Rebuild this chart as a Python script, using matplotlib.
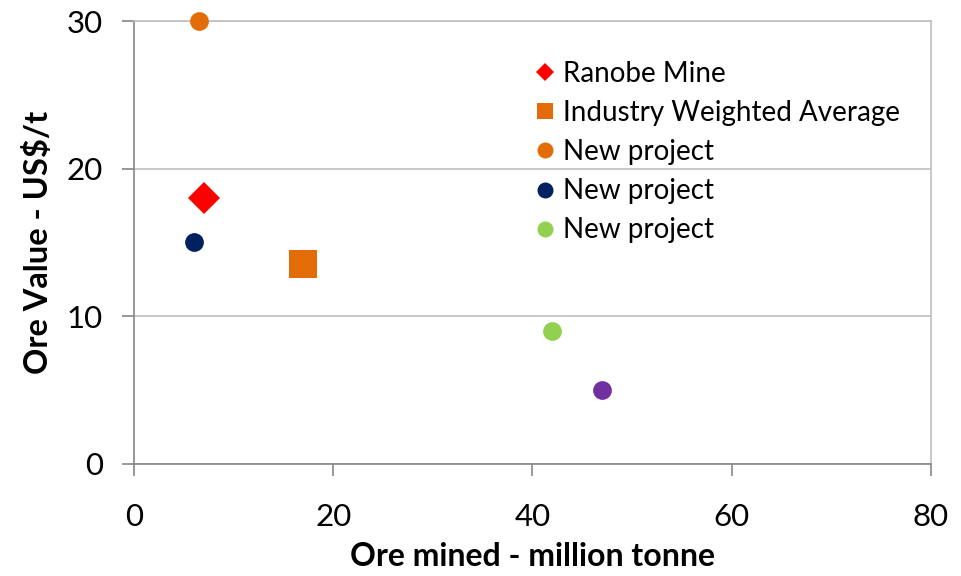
# Ore value vs ore mined scatter, Excel-style layout

import matplotlib.pyplot as plt

plt.rcParams['font.family'] = ['Lato', 'DejaVu Sans']

# Data points (ore mined in Mt, ore value in US$/t)
labels = ['Ranobe Mine', 'Industry Weighted Average', 'New project', 'New project', 'New project', '_nolegend_']
ore_mined = [7, 17, 6.5, 6, 42, 47]
ore_value = [18, 13.5, 30, 15, 9, 5]
markers = ['D', 's', 'o', 'o', 'o', 'o']
colors = ['#FF0000', '#E36C09', '#E36C09', '#002060', '#92D050', '#7030A0']
sizes = [16, 19.5, 13.5, 13.5, 13.5, 13.5]
legend_sizes = [9, 11.5, 11.5, 11.5, 11.5]

x_ticks = [0, 20, 40, 60, 80]
y_ticks = [0, 10, 20, 30]

fig = plt.figure(figsize=(9.61, 5.76), dpi=100)
ax = fig.add_axes([0.1394, 0.1953, 0.8294, 0.7682])

for x, y, m, c, s, lab in zip(ore_mined, ore_value, markers, colors, sizes, labels):
    ax.plot(x, y, linestyle='none', marker=m, color=c, markersize=s,
            markeredgewidth=0, label=lab, clip_on=False, zorder=3)

ax.set_xlim(0, 80)
ax.set_ylim(0, 30)
ax.set_xticks(x_ticks)
ax.set_yticks(y_ticks)
ax.yaxis.grid(True, color='#BFBFBF', linewidth=1.2)
ax.set_axisbelow(True)

for side in ['left', 'bottom']:
    ax.spines[side].set_color('#868686')
    ax.spines[side].set_linewidth(1.2)
for side in ['right', 'top']:
    ax.spines[side].set_color('#BFBFBF')
    ax.spines[side].set_linewidth(1.2)

ax.tick_params(axis='both', direction='out', length=8.5, width=1.2, color='#868686',
               labelsize=22.5)
ax.tick_params(axis='y', pad=14)
ax.tick_params(axis='x', pad=20)

ax.set_xlabel('Ore mined - million tonne', fontsize=23, fontweight='bold', labelpad=8)
ax.set_ylabel('Ore Value - US$/t', fontsize=23.5, fontweight='bold', labelpad=10)

leg = ax.legend(loc='upper left', bbox_to_anchor=(0.5525, 0.894), bbox_transform=fig.transFigure,
                frameon=False, fontsize=20, handletextpad=0.15, labelspacing=0.47,
                handlelength=1.0, borderpad=0, borderaxespad=0)
for handle, s in zip(leg.legend_handles, legend_sizes):
    handle.set_markersize(s)

fig.savefig('out.png', dpi=100)
